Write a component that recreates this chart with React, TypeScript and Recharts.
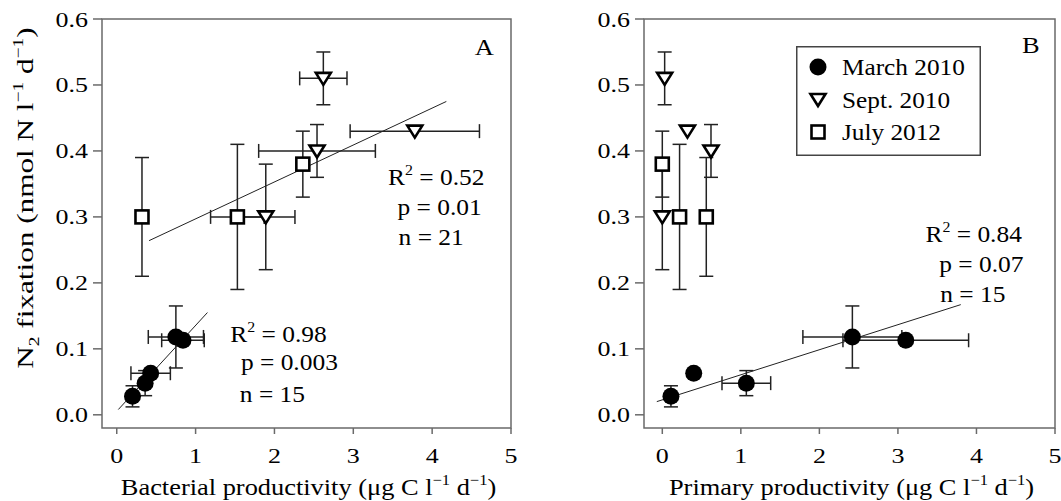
import React from "react";
import {
  ScatterChart, Scatter, XAxis, YAxis, ErrorBar, ReferenceLine, ReferenceArea, ReferenceDot, Legend,
} from "recharts";

const FONT = '"Liberation Serif", "Times New Roman", serif';
const INK = "#000";
const FRAME = "#6a6a6a";

// N2 fixation (y), shared by both panels
const marchY = [0.028, 0.063, 0.048, 0.118, 0.113];
const marchYErr = [0.016, null, 0.019, 0.047, null];
const septY = [0.51, 0.43, 0.4, 0.3];
const septYErr = [0.04, null, 0.04, 0.08];
const julyY = [0.38, 0.3, 0.3];
const julyYErr = [0.05, 0.09, 0.11];

// panel A: bacterial productivity
const marchBP = [0.2, 0.43, 0.36, 0.75, 0.84];
const marchBPErr = [null, 0.25, null, 0.35, 0.27];
const septBP = [2.62, 3.78, 2.54, 1.89];
const septBPErr = [0.3, 0.82, 0.74, 0.37];
const julyBP = [2.36, 0.32, 1.53];
const julyBPErr = [null, null, 0.34];

// panel B: primary productivity
const marchPP = [0.11, 0.4, 1.07, 2.42, 3.1];
const marchPPErr = [null, null, 0.31, 0.63, 0.8];
const septPP = [0.03, 0.32, 0.62, 0.0];
const julyPP = [0.0, 0.56, 0.22];

// regression fits (end points)
const fitA1X = [0.41, 4.18];
const fitA1Y = [0.264, 0.475];
const fitA2X = [0.02, 1.15];
const fitA2Y = [0.008, 0.155];
const fitBX = [-0.07, 3.8];
const fitBY = [0.02, 0.167];

const seriesNames = ["March 2010", "Sept. 2010", "July 2012"];
const xTicks = [0, 1, 2, 3, 4, 5];
const yTicks = [0, 0.1, 0.2, 0.3, 0.4, 0.5, 0.6];
const yDomain = [-0.02, 0.6];
const xDomainA = [-0.187, 5];
const xDomainB = [-0.233, 5];

type Row = { x: number; y: number; ex: number | null; ey: number | null };
const rows = (xs: number[], xErr: (number | null)[] | null, ys: number[], yErr: (number | null)[]): Row[] =>
  xs.map((x, i) => ({ x, y: ys[i], ex: xErr ? xErr[i] : null, ey: yErr[i] }));

const Dot = (p: any) => <circle cx={p.cx} cy={p.cy} r={8.5} fill="#000" />;
const Tri = (p: any) => (
  <polygon
    points={`${p.cx - 7.5},${p.cy - 5.5} ${p.cx + 7.5},${p.cy - 5.5} ${p.cx},${p.cy + 6.5}`}
    fill="#fff" stroke="#000" strokeWidth={2.6}
  />
);
const Sq = (p: any) => <rect x={p.cx - 6.5} y={p.cy - 6.5} width={13} height={13} fill="#fff" stroke="#000" strokeWidth={2.6} />;
const shapes = [Dot, Tri, Sq];

const XTick = (p: any) => (
  <g transform={`translate(${p.x},${p.y + 29}) scale(1.18,1)`}>
    <text textAnchor="middle" fontFamily={FONT} fontSize={22} fill={INK}>{p.payload.value}</text>
  </g>
);
const YTick = (p: any) => (
  <g transform={`translate(${p.x},${p.y + 7.5}) scale(1.18,1)`}>
    <text textAnchor="end" fontFamily={FONT} fontSize={22} fill={INK}>{p.payload.value.toFixed(1)}</text>
  </g>
);

const SUP = "\u22121";

const XTitle = ({ viewBox, name }: any) => (
  <g transform={`translate(${viewBox.x + viewBox.width / 2 + 2},${viewBox.y + 67}) scale(1.1,1)`}>
    <text textAnchor="middle" fontFamily={FONT} fontSize={24} fill={INK}>
      {name} (μg C l
      <tspan dy={-10} fontSize={15}>{SUP}</tspan>
      <tspan dy={10}>{" d"}</tspan>
      <tspan dy={-10} fontSize={15}>{SUP}</tspan>
      <tspan dy={10}>)</tspan>
    </text>
  </g>
);

const YTitle = ({ viewBox }: any) => (
  <g transform={`translate(${viewBox.x + 33},${viewBox.y + 179}) rotate(-90) scale(1.3,1)`}>
    <text textAnchor="middle" fontFamily={FONT} fontSize={24} fill={INK}>
      N
      <tspan dy={6} fontSize={15}>2</tspan>
      <tspan dy={-6}>{" fixation (nmol N l"}</tspan>
      <tspan dy={-10} fontSize={15}>{SUP}</tspan>
      <tspan dy={10}>{" d"}</tspan>
      <tspan dy={-10} fontSize={15}>{SUP}</tspan>
      <tspan dy={10}>)</tspan>
    </text>
  </g>
);

const Stats = ({ cx, cy, r2, pv, n, dp, dn, gaps }: any) => (
  <g transform={`translate(${cx},${cy}) scale(1.06,1)`} fontFamily={FONT} fontSize={24} fill={INK}>
    <text x={0} y={0}>
      R<tspan dy={-10} fontSize={15}>2</tspan>
      <tspan dy={10}>{` = ${r2}`}</tspan>
    </text>
    <text x={dp} y={gaps[0]}>{`p = ${pv}`}</text>
    <text x={dn} y={gaps[1]}>{`n = ${n}`}</text>
  </g>
);

const PanelLetter = ({ cx, cy, letter }: any) => (
  <g transform={`translate(${cx},${cy}) scale(1.15,1)`}>
    <text fontFamily={FONT} fontSize={23} fill={INK}>{letter}</text>
  </g>
);

const LegendBox = () => (
  <svg width={185} height={110} style={{ display: "block" }}>
    <rect x={0.75} y={0.75} width={183.5} height={108.5} fill="#fff" stroke="#444" strokeWidth={1.5} />
    {seriesNames.map((name, i) => {
      const cy = 21 + i * 32.5;
      const Shape = shapes[i];
      return (
        <g key={name}>
          <Shape cx={22} cy={cy} />
          <g transform={`translate(46,${cy + 8}) scale(1.1,1)`}>
            <text fontFamily={FONT} fontSize={23} fill={INK}>{name}</text>
          </g>
        </g>
      );
    })}
  </svg>
);

const errProps = { stroke: "#222", strokeWidth: 1.5, width: 7, isAnimationActive: false } as any;

function Panel({ data, xDomain, yWidth, width, title, showYTitle, fits, stats, letter, legend }: any) {
  // plot area is 409-411 px wide
  const plotW = xDomain === xDomainB ? 411 : 409;
  return (
    <ScatterChart
      width={width}
      height={501}
      margin={{ top: 19, right: width - yWidth - plotW, bottom: 0, left: 0 }}
    >
      <XAxis
        type="number" dataKey="x" domain={xDomain} ticks={xTicks} allowDataOverflow interval={0}
        axisLine={false} tickLine={{ stroke: FRAME, strokeWidth: 1.5 }} tickSize={6} tickMargin={0}
        tick={XTick} height={73}
        label={{ content: (p: any) => <XTitle viewBox={p.viewBox} name={title} /> }}
      />
      <YAxis
        type="number" dataKey="y" domain={yDomain} ticks={yTicks} allowDataOverflow interval={0}
        axisLine={false} tickLine={{ stroke: FRAME, strokeWidth: 1.5 }} tickSize={9} tickMargin={5}
        tick={YTick} width={yWidth}
        label={showYTitle ? { content: (p: any) => <YTitle viewBox={p.viewBox} /> } : undefined}
      />
      <ReferenceArea
        x1={xDomain[0]} x2={xDomain[1]} y1={yDomain[0]} y2={yDomain[1]}
        fill="none" stroke={FRAME} strokeWidth={1.5} fillOpacity={0} ifOverflow="visible"
      />
      {fits.map((f: any, i: number) => (
        <ReferenceLine
          key={i}
          segment={[{ x: f.x[0], y: f.y[0] }, { x: f.x[1], y: f.y[1] }]}
          stroke="#222" strokeWidth={1} ifOverflow="visible"
        />
      ))}
      {data.map((d: Row[], i: number) => (
        <Scatter key={seriesNames[i]} name={seriesNames[i]} data={d} shape={shapes[i]} isAnimationActive={false}>
          <ErrorBar dataKey="ey" direction="y" {...errProps} />
          <ErrorBar dataKey="ex" direction="x" {...errProps} />
        </Scatter>
      ))}
      {stats.map((s: any, i: number) => (
        <ReferenceDot
          key={"s" + i} x={s.x} y={s.y} r={0} ifOverflow="visible"
          shape={(p: any) => <Stats cx={p.cx} cy={p.cy} {...s} />}
        />
      ))}
      <ReferenceDot
        x={letter.x} y={letter.y} r={0} ifOverflow="visible"
        shape={(p: any) => <PanelLetter cx={p.cx} cy={p.cy} letter={letter.text} />}
      />
      {legend && (
        <Legend
          layout="vertical" align="center" verticalAlign="middle"
          wrapperStyle={{ left: 266, top: 46, width: 185, height: 110 }}
          content={() => <LegendBox />}
        />
      )}
    </ScatterChart>
  );
}

export default function App() {
  const dataA = [
    rows(marchBP, marchBPErr, marchY, marchYErr),
    rows(septBP, septBPErr, septY, septYErr),
    rows(julyBP, julyBPErr, julyY, julyYErr),
  ];
  const dataB = [
    rows(marchPP, marchPPErr, marchY, marchYErr),
    rows(septPP, null, septY, septYErr),
    rows(julyPP, null, julyY, julyYErr),
  ];
  return (
    <div style={{ position: "absolute", left: 0, top: 0, width: 1061, height: 501, background: "#fff", overflow: "hidden" }}>
      <div style={{ position: "absolute", left: 0, top: 0 }}>
        <Panel
          data={dataA} xDomain={xDomainA} yWidth={102} width={530}
          title="Bacterial productivity" showYTitle
          fits={[{ x: fitA1X, y: fitA1Y }, { x: fitA2X, y: fitA2Y }]}
          stats={[
            { x: 3.44, y: 0.348, r2: "0.52", pv: "0.01", n: "21", dp: 9, dn: 10, gaps: [30, 60] },
            { x: 1.44, y: 0.111, r2: "0.98", pv: "0.003", n: "15", dp: 10, dn: 9, gaps: [28, 60] },
          ]}
          letter={{ x: 4.54, y: 0.545, text: "A" }}
        />
      </div>
      <div style={{ position: "absolute", left: 530, top: 0 }}>
        <Panel
          data={dataB} xDomain={xDomainB} yWidth={114} width={531}
          title="Primary productivity"
          fits={[{ x: fitBX, y: fitBY }]}
          stats={[{ x: 3.35, y: 0.262, r2: "0.84", pv: "0.07", n: "15", dp: 13, dn: 14, gaps: [30, 60] }]}
          letter={{ x: 4.58, y: 0.548, text: "B" }}
          legend
        />
      </div>
    </div>
  );
}
